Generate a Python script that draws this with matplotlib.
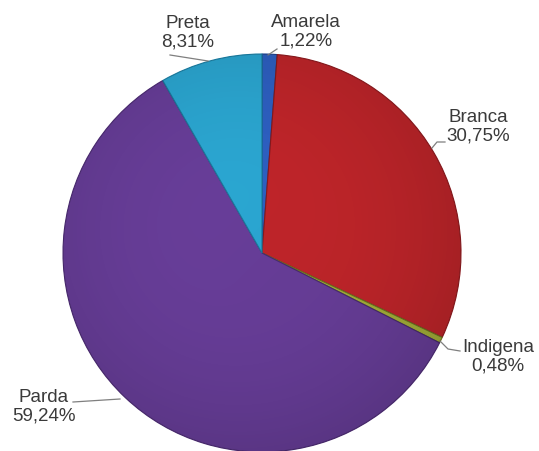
import matplotlib.pyplot as plt
import numpy as np
from matplotlib.patches import Circle

plt.rcParams['font.family'] = ['Liberation Sans', 'DejaVu Sans']

# cor/raca shares, clockwise from the top
categorias = ["Amarela", "Branca", "Indigena", "Parda", "Preta"]
percentuais = [1.22, 30.75, 0.48, 59.24, 8.31]
cores = ["#2f62c6", "#c4262b", "#a8b43a", "#6a3f9c", "#2caad6"]
bordas = ["#1d3f8a", "#8a1a1e", "#6e7620", "#4a2a70", "#1b7ca0"]

W, H = 539, 452
cx, cy, r = 262, 254, 199


def py(y):
    # pixel row -> data y
    return H - y


fig = plt.figure(figsize=(W / 100, H / 100), dpi=100)
ax = fig.add_axes([0, 0, 1, 1])

wedges, _ = ax.pie(percentuais, colors=cores, startangle=90, counterclock=False,
                   center=(cx, py(cy)), radius=r, frame=True,
                   wedgeprops=dict(linewidth=0.8))
for w, b in zip(wedges, bordas):
    w.set_edgecolor(b)

# gentle darkening towards the lower right and the rim
n = 200
gx, gy = np.meshgrid(np.linspace(-1, 1, n), np.linspace(-1, 1, n))
rr = np.sqrt(gx ** 2 + gy ** 2)
alpha = 0.07 * np.clip((gx - gy + 1.4) / 2.8, 0, 1) + 0.09 * np.clip((rr - 0.2) / 0.8, 0, 1) ** 2
shade = np.zeros((n, n, 4))
shade[..., 3] = alpha
ext = (cx - r, cx + r, py(cy) - r, py(cy) + r)
img = ax.imshow(shade, extent=ext, origin="lower", zorder=3, interpolation="bilinear")
img.set_clip_path(Circle((cx, py(cy)), r, transform=ax.transData))

ax.set_xlim(0, W)
ax.set_ylim(0, H)
ax.set_aspect("equal")
ax.axis("off")

# label positions (block centre) and leader lines in pixel coords
rotulos = {
    "Amarela": ((306, 32), [(268, 56), (277, 50)]),
    "Branca": ((478, 127), [(432, 149), (437, 143), (445, 143)]),
    "Indigena": ((498, 357), [(440, 342), (448, 350), (460, 352)]),
    "Parda": ((44, 407), [(120, 400), (73, 403)]),
    "Preta": ((188, 33), [(208, 62), (170, 56)]),
}

for nome, p in zip(categorias, percentuais):
    (tx, ty), linha = rotulos[nome]
    txt = "%s\n%s%%" % (nome, ("%.2f" % p).replace(".", ","))
    ax.text(tx, py(ty), txt, ha="center", va="center", fontsize=13.5,
            color="#3a3a3a", linespacing=1.15)
    ax.plot([q[0] for q in linha], [py(q[1]) for q in linha],
            color="#7f7f7f", lw=0.9)

fig.savefig("out.png", dpi=100)
